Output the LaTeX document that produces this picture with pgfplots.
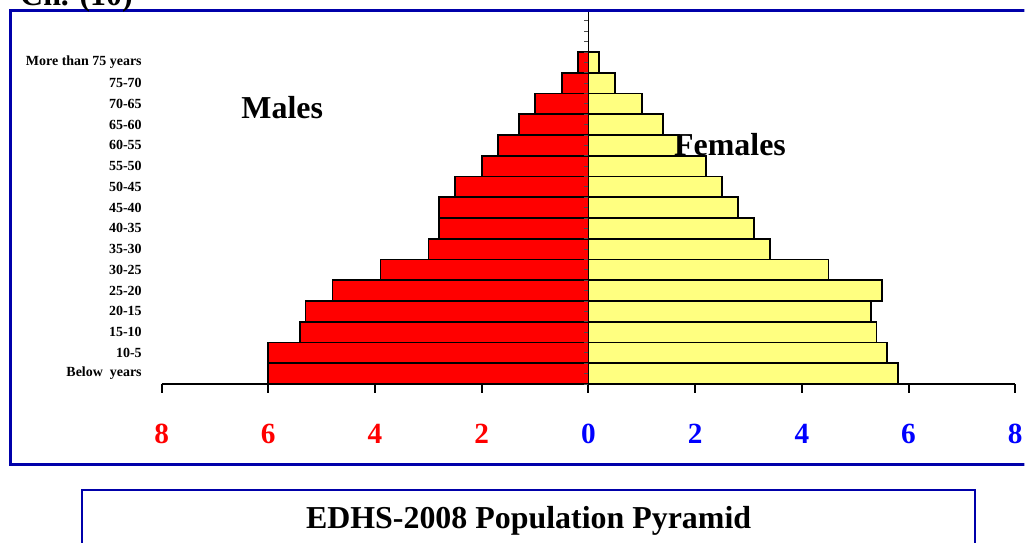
\documentclass[border=0pt]{standalone}
\usepackage{pgfplots}
\pgfplotsset{compat=1.18}
\usepackage{pgfplotstable}
\usepackage{fontspec}
\setmainfont{Liberation Serif}
\definecolor{frameblue}{RGB}{0,0,170}
\definecolor{tickblue}{RGB}{0,0,255}
\definecolor{fyellow}{RGB}{255,255,128}

\pgfplotstableread{
y m f
0 -6.0 5.8
1 -6.0 5.6
2 -5.4 5.4
3 -5.3 5.3
4 -4.8 5.5
5 -3.9 4.5
6 -3.0 3.4
7 -2.8 3.1
8 -2.8 2.8
9 -2.5 2.5
10 -2.0 2.2
11 -1.7 1.7
12 -1.3 1.4
13 -1.0 1.0
14 -0.5 0.5
15 -0.2 0.2
}\pyr

\begin{document}
\begin{tikzpicture}
\begin{scope}[x=0.75pt,y=-0.75pt]
\useasboundingbox (0,0) rectangle (1027,544);
\clip (0,0) rectangle (1027,544);
\draw[frameblue, line width=2.25pt] (11,11) rectangle (1060,466);
\draw[frameblue, line width=1.5pt] (82,491) rectangle (978,580);
\node[font=\fontsize{24}{28}\selectfont\bfseries, anchor=base west, inner sep=0pt] at (20,6) {Ch. (10)};
\node[font=\fontsize{24}{28}\selectfont\bfseries] at (530,522) {EDHS-2008 Population Pyramid};
\end{scope}

\begin{axis}[
  at={(121.5pt,-288.75pt)}, anchor=south west,
  scale only axis, width=642pt, height=279.75pt,
  xmin=-8, xmax=8, ymin=-0.5, ymax=17.43,
  clip=false,
  axis x line*=bottom, axis y line*=left,
  x axis line style={black, line width=1.5pt, -},
  y axis line style={draw=none},
  xtick={-8,-6,...,8},
  xticklabels={\textcolor{red}{8},\textcolor{red}{6},\textcolor{red}{4},\textcolor{red}{2},\textcolor{tickblue}{0},\textcolor{tickblue}{2},\textcolor{tickblue}{4},\textcolor{tickblue}{6},\textcolor{tickblue}{8}},
  xtick style={black, line width=1.5pt},
  tick align=outside,
  major tick length=6.75pt,
  xticklabel style={font=\fontsize{22}{26}\selectfont\bfseries, yshift=-20pt},
  ytick={0,...,15},
  yticklabels={Below~ years,10-5,15-10,20-15,25-20,30-25,35-30,40-35,45-40,50-45,55-50,60-55,65-60,70-65,75-70,More than 75 years},
  ytick style={draw=none},
  yticklabel style={font=\fontsize{10.5}{12}\selectfont\bfseries, anchor=east, inner sep=0pt, xshift=-8pt},
]
\addplot[xbar, bar width=1, bar shift=0pt, fill=red, draw=black, line width=1.2pt] table[x=m, y=y] {\pyr};
\addplot[xbar, bar width=1, bar shift=0pt, fill=fyellow, draw=black, line width=1.2pt] table[x=f, y=y] {\pyr};
\end{axis}

\begin{axis}[
  at={(121.5pt,-288.75pt)}, anchor=south west,
  scale only axis, width=642pt, height=279.75pt,
  xmin=-8, xmax=8, ymin=-0.5, ymax=17.43,
  axis x line=none, axis y line*=middle,
  y axis line style={black, line width=1.2pt, -},
  xtick=\empty,
  ytick={-0.5,0,...,17}, yticklabels={},
  tick align=outside, major tick length=3pt,
  ytick style={black!70, line width=0.6pt},
]
\end{axis}

\begin{scope}[x=0.75pt,y=-0.75pt]
\node[font=\fontsize{24}{28}\selectfont\bfseries] at (283,108) {Males};
\node[font=\fontsize{24}{28}\selectfont\bfseries] at (732,145) {Females};
\end{scope}
\end{tikzpicture}
\end{document}
